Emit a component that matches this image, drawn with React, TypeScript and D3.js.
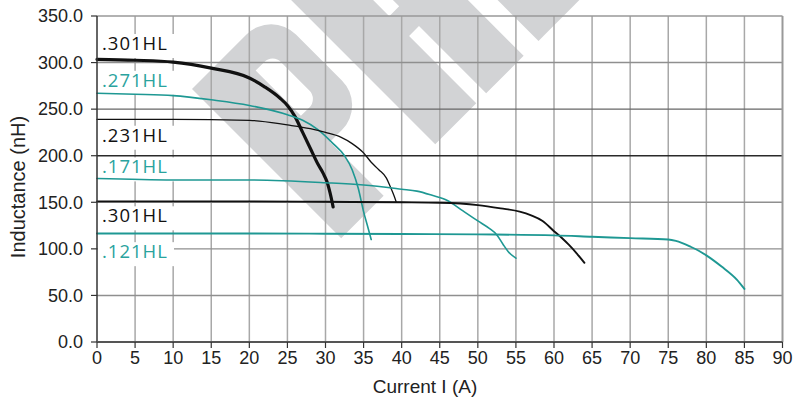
import React from 'react';
import * as d3 from 'd3';

const xTicks = [0, 5, 10, 15, 20, 25, 30, 35, 40, 45, 50, 55, 60, 65, 70, 75, 80, 85, 90];
const yTicks = [0, 50, 100, 150, 200, 250, 300, 350];
const xTitle = 'Current I (A)';
const yTitle = 'Inductance (nH)';

const seriesNames = ['.301HL', '.271HL', '.231HL', '.171HL', '.301HL', '.121HL'];

const s301Top: [number, number][] = [
  [0, 303.5], [5, 302.5], [10, 300.5], [15, 294], [20, 283.5], [22, 274], [24, 262], [25, 254],
  [26, 242], [27, 225], [28, 208], [29, 191], [29.7, 181], [30.2, 172], [30.6, 160], [31, 145],
];
const s271: [number, number][] = [
  [0, 267], [5, 266], [10, 264.5], [15, 260], [20, 254], [25, 244], [27, 238], [29, 228],
  [31, 213], [32.5, 200], [33.5, 185], [34.3, 165], [35, 140], [35.5, 125], [36, 110],
];
const s231: [number, number][] = [
  [0, 239], [10, 239], [20, 238], [25, 233], [28, 229], [30, 225], [32, 220], [33.5, 213],
  [35, 203], [36, 193], [37, 185], [38, 176], [38.5, 167], [39, 157], [39.3, 150],
];
const s171: [number, number][] = [
  [0, 175.5], [10, 174], [20, 174], [30, 171], [35, 168.5], [40, 164], [42, 162], [44, 157.5],
  [46, 152], [48, 141], [50, 130], [51.5, 122], [52.5, 115], [53.3, 105], [54, 97], [55, 90],
];
const s301Low: [number, number][] = [
  [0, 151], [10, 151], [20, 151], [30, 150.5], [40, 150], [45, 149.5], [50, 147], [53, 143.5],
  [55.5, 140], [57, 136], [58.5, 130], [60, 119], [61, 112], [62, 104], [63, 95], [64, 85],
];
const s121: [number, number][] = [
  [0, 116.5], [10, 116.5], [20, 116.5], [30, 116.3], [40, 116], [50, 115.5], [60, 114.5],
  [65, 113], [70, 111.5], [75, 110], [76, 108.5], [78, 102], [79, 98], [80, 93], [82, 81],
  [84, 67], [85, 57],
];

const BLACK = '#111111';
const TEAL = '#1e9893';
const TEAL_TEXT = '#2aa39e';

export default function App() {
  const W = 794;
  const H = 405;
  const x = d3.scaleLinear().domain([0, 90]).range([97, 782.5]);
  const y = d3.scaleLinear().domain([0, 350]).range([342, 16]);
  const line = d3
    .line<[number, number]>()
    .x((d) => x(d[0]))
    .y((d) => y(d[1]))
    .curve(d3.curveMonotoneX);

  const series = [
    { data: s301Top, color: BLACK, width: 3.2, label: seriesNames[0], labelAt: 313.5, text: BLACK },
    { data: s271, color: TEAL, width: 1.6, label: seriesNames[1], labelAt: 274, text: TEAL_TEXT },
    { data: s231, color: BLACK, width: 1.3, label: seriesNames[2], labelAt: 215, text: BLACK },
    { data: s171, color: TEAL, width: 1.6, label: seriesNames[3], labelAt: 181, text: TEAL_TEXT },
    { data: s301Low, color: BLACK, width: 1.9, label: seriesNames[4], labelAt: 128.5, text: BLACK },
    { data: s121, color: TEAL, width: 1.9, label: seriesNames[5], labelAt: 90, text: TEAL_TEXT },
  ];

  const hColor = (v: number) => (v === 200 ? '#2a2a2a' : v === 250 ? '#666' : '#8f8f8f');
  const sans = '"Liberation Sans", Arial, sans-serif';
  const labelFont = '"Open Sans", "Noto Sans", sans-serif';

  return (
    <div style={{ position: 'absolute', left: 0, top: 0 }}>
      <svg width={W} height={H} viewBox={`0 0 ${W} ${H}`} style={{ display: 'block', background: '#fff' }}>
        {/* watermark */}
        <g transform="translate(192,89) rotate(-45)" fill="#d2d3d5">
          <path
            fillRule="evenodd"
            d="M0,0 H77 A35,35 0 0 1 112,35 V100 A35,35 0 0 1 77,135 H60 V211 H0 Z M58,32 H70 A12,12 0 0 1 82,44 V84 A12,12 0 0 1 70,96 H58 Z"
          />
          <path d="M133,0 H191 V88 H205 V0 H258 V211 H205 V116 H191 V211 H133 Z" />
          <path d="M279,0 H345 V211 H279 Z" />
        </g>

        {/* vertical grid */}
        {xTicks.slice(1, -1).map((t) => (
          <line key={'v' + t} x1={x(t)} x2={x(t)} y1={y(350)} y2={y(0)} stroke="#a8a8a8" strokeWidth={1.5} />
        ))}
        {/* horizontal grid */}
        {yTicks.slice(1, -1).map((t) => (
          <line key={'h' + t} x1={x(0)} x2={x(90)} y1={y(t)} y2={y(t)} stroke={hColor(t)} strokeWidth={1.4} />
        ))}
        {/* frame */}
        <line x1={x(0)} x2={x(90)} y1={y(350)} y2={y(350)} stroke="#999" strokeWidth={1.5} />
        <line x1={x(90)} x2={x(90)} y1={y(350)} y2={y(0)} stroke="#999" strokeWidth={2} />

        {/* label boxes */}
        {series.map((s, i) => (
          <rect key={'b' + i} x={x(0) + 1} y={y(s.labelAt) - 16} width={76} height={24} fill="#fff" />
        ))}

        {/* curves */}
        {series.map((s, i) => (
          <path key={'c' + i} d={line(s.data) || ''} fill="none" stroke={s.color} strokeWidth={s.width} strokeLinejoin="round" strokeLinecap="round" />
        ))}

        {/* labels */}
        {series.map((s, i) => (
          <text key={'l' + i} x={x(0) + 5} y={y(s.labelAt)} fill={s.text} fontFamily={labelFont} fontSize={18.5} letterSpacing={1}>
            {s.label}
          </text>
        ))}

        {/* axes */}
        <line x1={x(0)} x2={x(0)} y1={y(350)} y2={y(0)} stroke="#333" strokeWidth={1.5} />
        <line x1={x(0)} x2={x(90)} y1={y(0)} y2={y(0)} stroke="#555" strokeWidth={2} />
        {yTicks.map((t) => (
          <g key={'yt' + t}>
            <line x1={x(0) - 6} x2={x(0)} y1={y(t)} y2={y(t)} stroke="#333" strokeWidth={1.2} />
            <text x={x(0) - 14} y={y(t)} dy="0.35em" textAnchor="end" fontFamily={sans} fontSize={18} fill="#222">
              {t.toFixed(1)}
            </text>
          </g>
        ))}
        {xTicks.map((t) => (
          <g key={'xt' + t}>
            <line x1={x(t)} x2={x(t)} y1={y(0)} y2={y(0) + 6} stroke="#333" strokeWidth={1.2} />
            <text x={x(t)} y={y(0) + 22} textAnchor="middle" fontFamily={sans} fontSize={18} fill="#222">
              {t}
            </text>
          </g>
        ))}
        <text x={425} y={393} textAnchor="middle" fontFamily={sans} fontSize={19} fill="#222">
          {xTitle}
        </text>
        <text transform="translate(25,187) rotate(-90)" textAnchor="middle" fontFamily={sans} fontSize={20} fill="#222">
          {yTitle}
        </text>
      </svg>
    </div>
  );
}
